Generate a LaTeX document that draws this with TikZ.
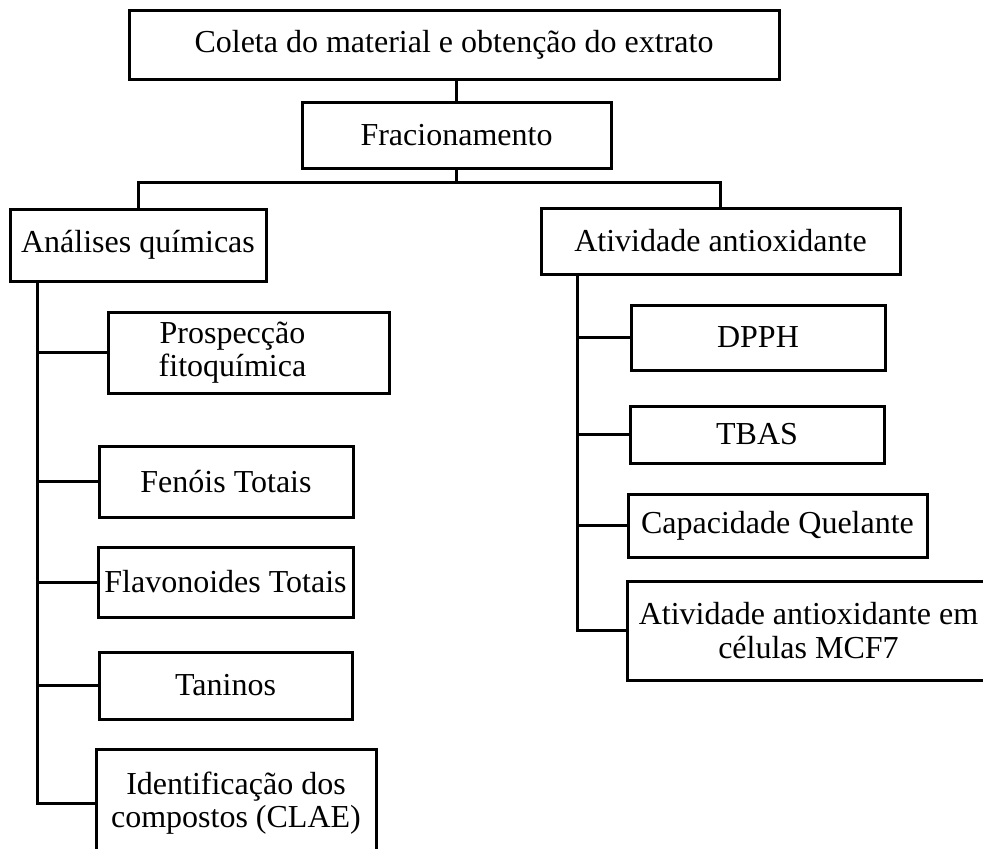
\documentclass[tikz,border=0pt]{standalone}
\usepackage{fontspec}
\setmainfont{Liberation Serif}
\begin{document}
\begin{tikzpicture}[x=1pt,y=-1pt,
  box/.style={draw=black, line width=3pt, rectangle, inner sep=0pt, align=center,
    font=\fontsize{32}{33.5}\selectfont},
  boxtext/.style={inner sep=0pt, align=center, font=\fontsize{32}{33.5}\selectfont},
  link/.style={draw=black, line width=3pt}]
\useasboundingbox (0,0) rectangle (983,849);
\clip (0,0) rectangle (983,849);

% main sequence
\node[box, minimum width=650pt, minimum height=69pt] (top) at (454,44.5) {Coleta do material e obtenção do extrato};
\node[box, minimum width=309pt, minimum height=66pt] (frac) at (456.5,135) {Fracionamento};

% two branches
\node[box, minimum width=256pt, minimum height=72pt] (ana) at (138,245) {Análises químicas};
\node[box, minimum width=359pt, minimum height=66pt] (ativ) at (720.5,241) {Atividade antioxidante};

% chemical analyses
\node[box, minimum width=281pt, minimum height=81pt] (pro) at (248.5,352.5) {};
\node[boxtext] (protext) at ([xshift=-16pt]pro.center) {Prospecção\\fitoquímica};
\node[box, minimum width=254pt, minimum height=71pt] (fen) at (226,481.5) {Fenóis Totais};
\node[box, minimum width=255pt, minimum height=70pt] (flav) at (225.5,582) {Flavonoides Totais};
\node[box, minimum width=253pt, minimum height=67pt] (tan) at (225.5,685.5) {Taninos};
\node[box, minimum width=280pt, minimum height=108pt] (ident) at (236,803) {Identificação dos\\compostos (CLAE)};

% antioxidant assays
\node[box, minimum width=254pt, minimum height=65pt] (dpph) at (758,337.5) {DPPH};
\node[box, minimum width=254pt, minimum height=57pt] (tbas) at (757,434.5) {TBAS};
\node[box, minimum width=299pt, minimum height=63pt] (cap) at (777.5,525.5) {Capacidade Quelante};
\node[box, minimum width=363pt, minimum height=99pt] (mcf) at (808.5,630.5) {Atividade antioxidante em\\células MCF7};

% connectors
\coordinate (split) at (456,182);
\coordinate (ltrunk) at (37,0);
\coordinate (rtrunk) at (577,0);

\draw[link] (top.south -| frac.north) -- (frac.north);
\draw[link] (frac.south -| split) -- (split);
\draw[link] (ana.north) |- (split) -| (ativ.north);

\draw[link] (ltrunk |- ana.south) -- (ltrunk |- ident.west) -- (ident.west);
\draw[link] (ltrunk |- pro.west) -- (pro.west);
\draw[link] (ltrunk |- fen.west) -- (fen.west);
\draw[link] (ltrunk |- flav.west) -- (flav.west);
\draw[link] (ltrunk |- tan.west) -- (tan.west);

\draw[link] (rtrunk |- ativ.south) -- (rtrunk |- mcf.west) -- (mcf.west);
\draw[link] (rtrunk |- dpph.west) -- (dpph.west);
\draw[link] (rtrunk |- tbas.west) -- (tbas.west);
\draw[link] (rtrunk |- cap.west) -- (cap.west);
\end{tikzpicture}
\end{document}
